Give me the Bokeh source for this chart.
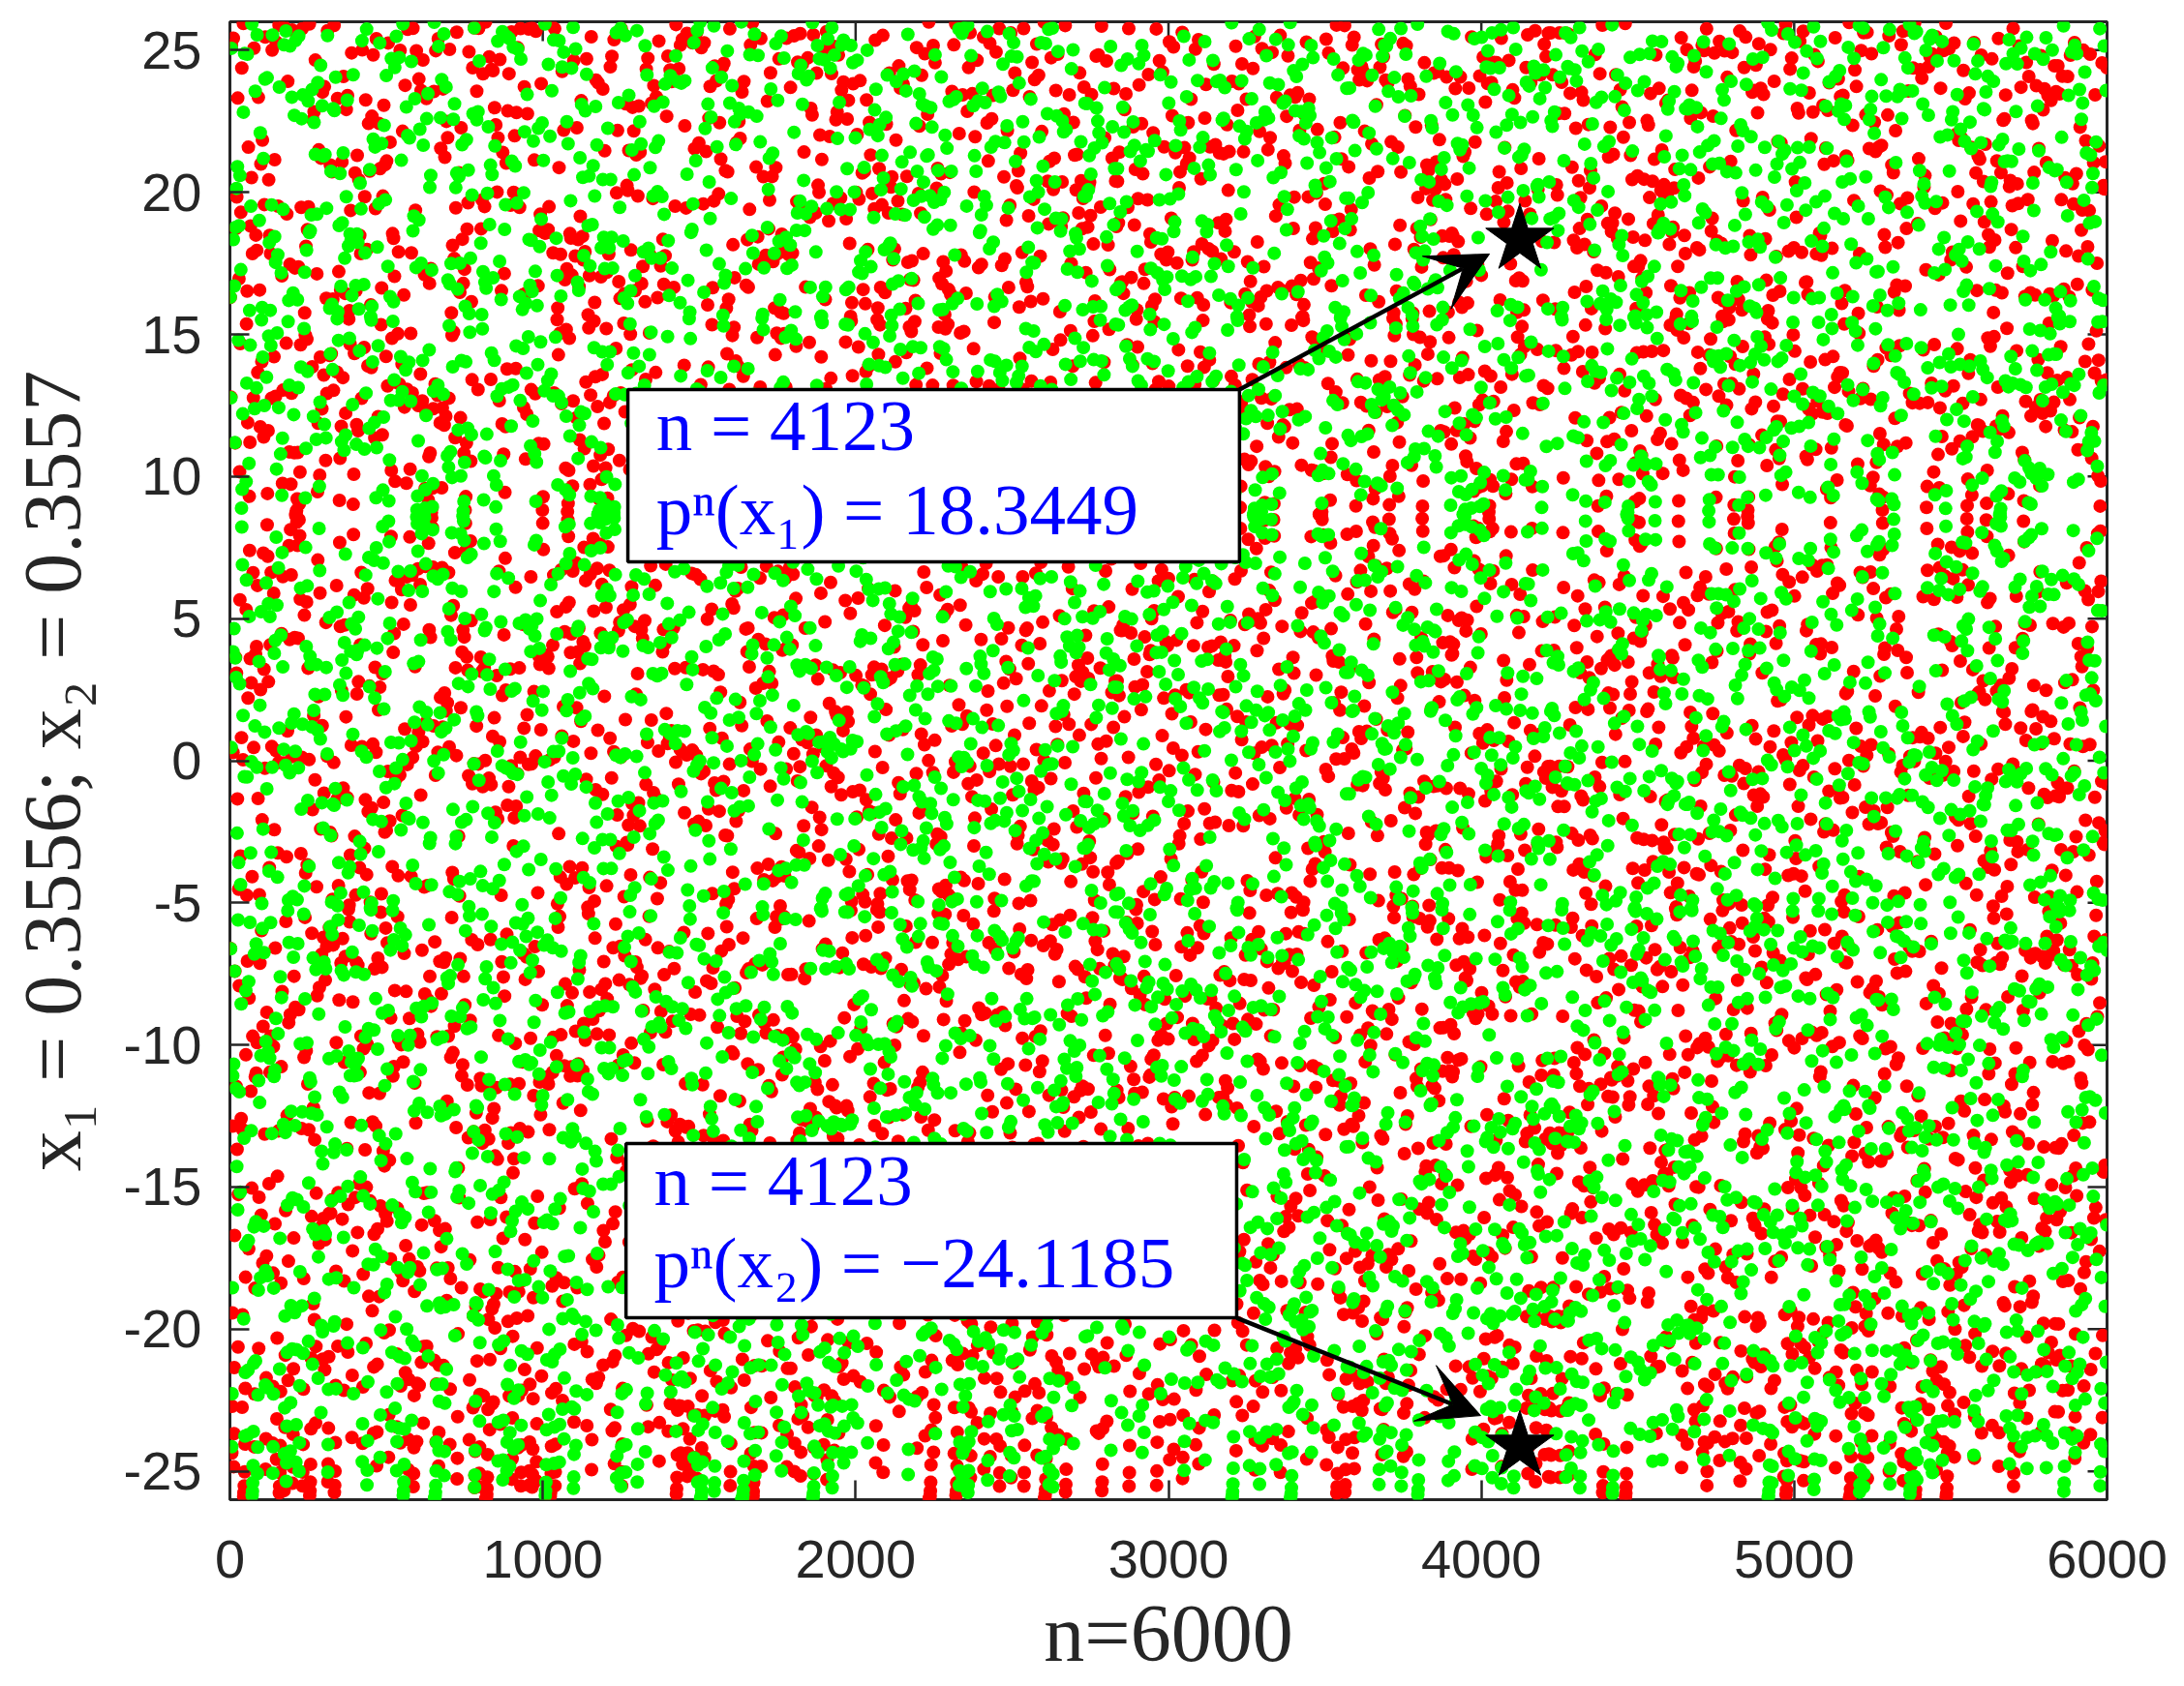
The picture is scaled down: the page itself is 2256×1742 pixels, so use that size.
import numpy as np
from bokeh.plotting import figure
from bokeh.models import (FixedTicker, BoxAnnotation, Label, Arrow,
                          VeeHead, Range1d)
from bokeh.embed import file_html
from bokeh.resources import INLINE

# ---------------- data ----------------
N_ITER = 6000                      # n = 1 .. 6000
x1_init = 0.3556                   # initial condition of red orbit
x2_init = 0.3557                   # initial condition of green orbit
marked_n = [4123, 4123]            # annotated iterate
marked_val = [18.3449, -24.1185]   # p^n(x1), p^n(x2) at n = 4123
x_ticks = [0, 1000, 2000, 3000, 4000, 5000, 6000]
y_ticks = [-25, -20, -15, -10, -5, 0, 5, 10, 15, 20, 25]
label_lines_1 = ["n = 4123", "pⁿ(x₁) = 18.3449"]
label_lines_2 = ["n = 4123", "pⁿ(x₂) = −24.1185"]
X_MIN, X_MAX = 0, 6000
Y_MIN, Y_MAX = -26, 26


def orbit(u0, n_iter):
    """Iterates of a chaotic map (the dynamical system the chart depicts)."""
    u = u0
    out = np.empty(n_iter)
    for i in range(n_iter):
        u = 4.0 * u * (1.0 - u)
        out[i] = -26.0 + 52.0 * (2.0 / np.pi) * np.arcsin(np.sqrt(u))
    return out


n_vals = np.arange(1, N_ITER + 1)
p_x1 = orbit(x1_init, N_ITER)
p_x2 = orbit(x2_init, N_ITER)
p_x1[marked_n[0] - 1] = marked_val[0]
p_x2[marked_n[1] - 1] = marked_val[1]

# ---------------- figure ----------------
AX_COL = "#262626"
FRAME_W, FRAME_H = 1939, 1527
TICK_PX = 20
p = figure(width=2256, height=1742,
           x_range=Range1d(X_MIN, X_MAX), y_range=Range1d(Y_MIN, Y_MAX),
           output_backend="svg", toolbar_location=None,
           min_border_left=237, min_border_right=80,
           min_border_top=22, min_border_bottom=193)
p.grid.visible = False
p.outline_line_color = AX_COL
p.outline_line_width = 3
p.background_fill_color = "white"
p.border_fill_color = "white"


def style_axis(ax, ticks):
    ax.ticker = FixedTicker(ticks=ticks)
    ax.major_label_overrides = {t: str(t) for t in ticks}
    ax.axis_line_color = None
    ax.major_tick_in = TICK_PX
    ax.major_tick_out = 0
    ax.major_tick_line_color = AX_COL
    ax.major_tick_line_width = 2.5
    ax.minor_tick_line_color = None
    ax.major_label_text_font = "Liberation Sans"
    ax.major_label_text_color = AX_COL
    ax.major_label_text_font_size = "56px"


style_axis(p.xaxis[0], x_ticks)
style_axis(p.yaxis[0], y_ticks)
p.xaxis[0].major_label_standoff = 42
p.yaxis[0].major_label_standoff = 29

p.xaxis[0].axis_label = "n=6000"
p.xaxis[0].axis_label_text_font = "Liberation Serif"
p.xaxis[0].axis_label_text_font_size = "84px"
p.xaxis[0].axis_label_text_font_style = "normal"
p.xaxis[0].axis_label_text_color = AX_COL
p.xaxis[0].axis_label_standoff = 8

p.yaxis[0].axis_label = "x₁ = 0.3556;  x₂ = 0.3557"
p.yaxis[0].axis_label_text_font = "Liberation Serif"
p.yaxis[0].axis_label_text_font_size = "84px"
p.yaxis[0].axis_label_text_font_style = "normal"
p.yaxis[0].axis_label_text_color = AX_COL
p.yaxis[0].axis_label_standoff = 24

# inward ticks on the top and right edges of the box
dx_tick = TICK_PX / FRAME_W * (X_MAX - X_MIN)
dy_tick = TICK_PX / FRAME_H * (Y_MAX - Y_MIN)
p.segment(x0=x_ticks, y0=[Y_MAX] * len(x_ticks),
          x1=x_ticks, y1=[Y_MAX - dy_tick] * len(x_ticks),
          line_color=AX_COL, line_width=2.5)
p.segment(x0=[X_MAX] * len(y_ticks), y0=y_ticks,
          x1=[X_MAX - dx_tick] * len(y_ticks), y1=y_ticks,
          line_color=AX_COL, line_width=2.5)

# ---------------- points ----------------
p.scatter(n_vals, p_x1, size=14, fill_color="#FF0000", line_color=None)
p.scatter(n_vals, p_x2, size=14, fill_color="#00FF00", line_color=None)
p.scatter(marked_n, marked_val, marker="star", size=74,
          fill_color="black", line_color="black")

# ---------------- annotations ----------------
p.add_layout(Arrow(x_start=3227, y_start=13.06, x_end=4026, y_end=17.83,
                   line_width=4.5, line_color="black",
                   end=VeeHead(size=62, fill_color="black", line_color="black")))
p.add_layout(Arrow(x_start=3218, y_start=-19.60, x_end=3998, y_end=-23.04,
                   line_width=4.5, line_color="black",
                   end=VeeHead(size=62, fill_color="black", line_color="black")))

p.add_layout(BoxAnnotation(left=1272, right=3227, bottom=7.0, top=13.06,
                           fill_color="white", fill_alpha=1.0,
                           line_color="black", line_width=3.5, line_alpha=1.0))
p.add_layout(BoxAnnotation(left=1266, right=3218, bottom=-19.60, top=-13.47,
                           fill_color="white", fill_alpha=1.0,
                           line_color="black", line_width=3.5, line_alpha=1.0))

BASE_FIX = 0.9  # compensates the renderer's baseline offset
for txt, yy in zip(label_lines_1, [10.91, 7.95]):
    p.add_layout(Label(x=1362, y=yy + BASE_FIX, text=txt,
                       text_font="Liberation Serif",
                       text_font_size="75px", text_color="#0000FF",
                       text_baseline="alphabetic", text_align="left"))
for txt, yy in zip(label_lines_2, [-15.65, -18.54]):
    p.add_layout(Label(x=1355, y=yy + BASE_FIX, text=txt,
                       text_font="Liberation Serif",
                       text_font_size="75px", text_color="#0000FF",
                       text_baseline="alphabetic", text_align="left"))

open("out.html", "w").write(file_html(p, INLINE))
